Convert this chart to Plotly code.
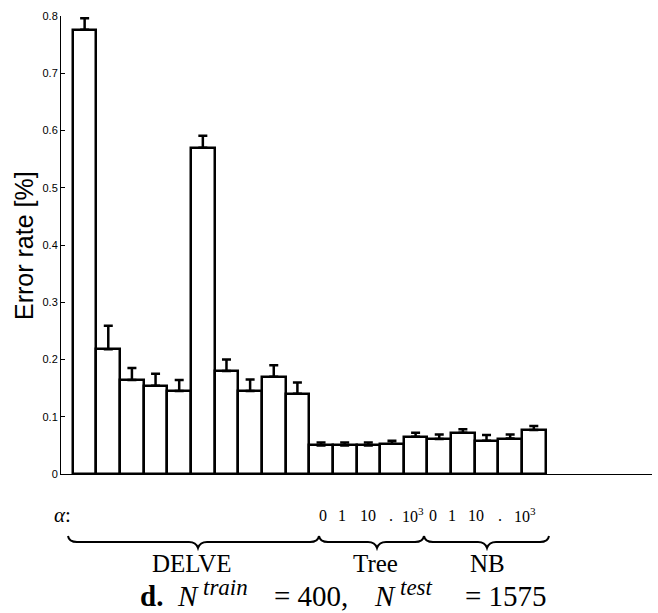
import plotly.graph_objects as go

# ---------------- data ----------------
groups = ["DELVE"] * 10 + ["Tree"] * 5 + ["NB"] * 5
bar_index = list(range(1, 21))
error_rate = [0.776, 0.218, 0.164, 0.154, 0.145, 0.570, 0.180, 0.145, 0.170, 0.140,
              0.050, 0.050, 0.050, 0.053, 0.065,
              0.061, 0.072, 0.058, 0.062, 0.077]
error_up = [0.020, 0.041, 0.021, 0.021, 0.019, 0.021, 0.020, 0.020, 0.020, 0.020,
            0.005, 0.005, 0.005, 0.005, 0.007,
            0.008, 0.006, 0.010, 0.007, 0.007]
y_ticks = [0.0, 0.1, 0.2, 0.3, 0.4, 0.5, 0.6, 0.7, 0.8]
y_ticktext = ["0", "0.1", "0.2", "0.3", "0.4", "0.5", "0.6", "0.7", "0.8"]
alpha_labels = ["0", "1", "10", ".", "10<sup>3</sup>"]
group_names = ["DELVE", "Tree", "NB"]

# ---------------- layout geometry (pixels) ----------------
W, H = 658, 613
L, R, T, B = 61, 6, 16, 139
PW, PH = W - L - R, H - T - B


def px(x):
    return (x - L) / PW


def py(y):
    return (H - B - y) / PH


fig = go.Figure()
fig.add_trace(go.Bar(
    x=bar_index, y=error_rate, width=1,
    marker=dict(color="white", line=dict(color="black", width=2.5)),
    error_y=dict(type="data", symmetric=False, array=error_up,
                 arrayminus=[0] * len(error_up), color="black",
                 thickness=2.5, width=4.5),
    showlegend=False,
))

SERIF = "Liberation Serif"
ann = []


def text(t, x, y, size, xanchor="center", family=SERIF, **kw):
    ann.append(dict(text=t, x=px(x), y=py(y), xref="paper", yref="paper",
                    showarrow=False, xanchor=xanchor, yanchor="middle",
                    font=dict(family=family, size=size, color="black"), **kw))


text("Error rate [%]", 24, 246, 25, family="Liberation Sans", textangle=-90)
text("<i>α</i>:", 62, 515, 21)
alpha_x = [323, 342, 368, 391, 413, 433, 452, 476, 500, 525]
for i, xx in enumerate(alpha_x):
    text(alpha_labels[i % 5], xx, 515, 16)
name_x = [192, 375, 487]
for nm, xx in zip(group_names, name_x):
    text(nm, xx, 563, 25)

# caption: d. N^train = 400, N^test = 1575
text("<b>d.</b>", 138, 596, 29, xanchor="left")
text("<i>N</i>", 175, 596, 29, xanchor="left")
text("<i>train</i>", 201, 587, 23, xanchor="left")
text("= 400,", 272, 596, 29, xanchor="left")
text("<i>N</i>", 372, 596, 29, xanchor="left")
text("<i>test</i>", 398, 587, 23, xanchor="left")
text("= 1575", 549, 596, 29, xanchor="right")


def brace(x0, x1, tip, ytop=536, ymid=542, ybot=548, r=9):
    pts = lambda x, y: f"{px(x)},{py(y)}"
    return ("M " + pts(x0, ytop) +
            " Q " + pts(x0 + 1, ymid) + " " + pts(x0 + r, ymid) +
            " L " + pts(tip - r, ymid) +
            " Q " + pts(tip - 2, ymid) + " " + pts(tip, ybot) +
            " Q " + pts(tip + 2, ymid) + " " + pts(tip + r, ymid) +
            " L " + pts(x1 - r, ymid) +
            " Q " + pts(x1 - 1, ymid) + " " + pts(x1, ytop))


shapes = []
for (a, b_, t) in [(68, 319, 198), (319, 424, 377), (424, 549, 487)]:
    shapes.append(dict(type="path", path=brace(a, b_, t), xref="paper", yref="paper",
                       line=dict(color="black", width=2)))

fig.update_layout(
    width=W, height=H,
    margin=dict(l=L, r=R, t=T, b=B),
    paper_bgcolor="white", plot_bgcolor="white",
    bargap=0,
    annotations=ann,
    shapes=shapes,
    xaxis=dict(range=[0, 25], showline=True, linecolor="black", linewidth=1,
               showticklabels=False, ticks="", showgrid=False, zeroline=False),
    yaxis=dict(range=[0, 0.8], showline=True, linecolor="black", linewidth=1,
               tickvals=y_ticks, ticktext=y_ticktext, ticks="inside", ticklen=4,
               tickcolor="black", showgrid=False, zeroline=False,
               tickfont=dict(family="Liberation Sans", size=11, color="black")),
)

fig.write_html("out.html")
